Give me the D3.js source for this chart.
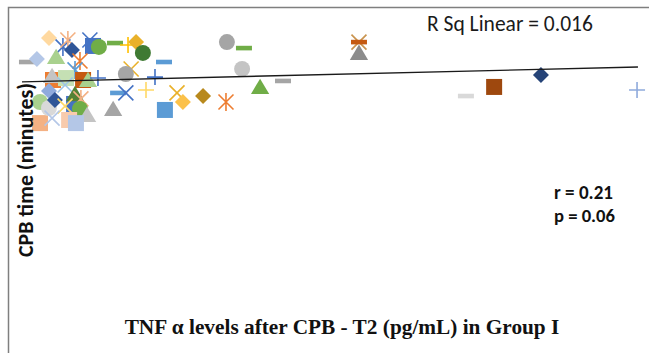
<!DOCTYPE html>
<html lang="en">
<head>
<meta charset="UTF-8">
<title>CPB time vs TNF alpha</title>
<script src="https://cdn.jsdelivr.net/npm/d3@7"></script>
<style>
  body { margin: 0; background: #fff; }
  svg { display: block; }
</style>
</head>
<body>
<div id="chart"></div>
<script>
// one entry per patient
const tnf = [13.2, 8.7, 14.8, 21.9, 22.9, 16.1, 24.8, 30.0, 34.2, 36.8, 39.0,
             1.6, 4.8, 11.0, 18.7, 17.1, 35.2, 45.8,
             10.0, 9.7, 14.2, 19.7, 21.3, 24.5, 33.5, 42.9, 13.9,
             31.0, 33.5, 40.0, 50.0, 51.9, 58.4,
             8.7, 5.8, 5.8, 8.7, 16.8, 10.6, 17.1, 19.0, 13.9, 18.7, 29.4, 21.0, 46.1,
             15.2, 17.4, 9.7,
             66.1, 71.6, 71.0, 76.8, 84.2, 65.8,
             108.7, 108.7, 108.7, 143.2, 152.3, 167.4, 198.4];
const cpb = [130.9, 135.5, 134.5, 134.5, 131.4, 129.3, 130.9, 132.9, 131.9, 133.4, 127.8,
             123.1, 124.6, 125.7, 123.6, 119.0, 119.5, 123.1,
             113.8, 115.9, 114.8, 113.8, 113.8, 114.8, 116.9, 115.3, 111.2,
             107.1, 107.1, 108.6, 107.1, 102.4, 105.5,
             108.1, 102.4, 91.5, 99.3, 101.4, 103.4, 106.5, 104.0, 100.3, 98.8, 98.8, 95.7, 98.3,
             93.1, 91.5, 94.1,
             133.4, 130.3, 119.5, 110.2, 113.3, 102.4,
             127.8, 133.4, 133.4, 105.5, 110.2, 116.4, 108.6];
const marker = ["star", "diamond", "star", "x", "square", "diamond", "circle", "dash", "plus", "diamond", "circle",
                "dash", "diamond", "triangle", "star", "star", "x", "dash",
                "square", "triangle", "square", "square", "triangle", "plus", "circle", "plus", "x",
                "dash", "x", "plus", "x", "diamond", "diamond",
                "diamond", "circle", "square", "circle", "square", "diamond", "triangle", "star", "x", "circle", "triangle", "triangle", "square",
                "square", "square", "x",
                "circle", "dash", "circle", "triangle", "dash", "star",
                "triangle", "x", "dash", "dash", "square", "diamond", "plus"];
const tone = ["blue", "peach", "salmon", "blue", "blue", "darkBlue", "green", "green", "gold", "amber", "forest",
              "gray", "lavender", "lightGreen", "orange", "lightBlue", "amber", "lightBlue",
              "orange", "lightGray", "paleGreen", "darkOrange", "lightGreen", "blue", "gray", "blue", "skyBlue",
              "lightBlue", "blue", "lightGold", "amber", "yellowOrange", "darkGold",
              "periwinkle", "lightGreen", "salmon", "paleGray", "blue", "darkBlue", "darkGreen", "salmon", "lightGold", "green", "gray", "lightGray", "lightBlue",
              "pink", "lavender", "lavender",
              "gray", "green", "lightGray", "green", "gray", "orange",
              "darkGray", "tan", "darkOrange", "paleGray", "brown", "navy", "periwinkle"];

// fitted line (SPSS output)
const trendIntercept = 112.8;
const trendSlope = 0.0388;
const rSqText = "R Sq Linear = 0.016";
const statLines = ["r = 0.21", "p = 0.06"];
const xTitle = "TNF \u03b1 levels after CPB - T2 (pg/mL) in Group I";
const yTitle = "CPB  time (minutes)";

const palette = {
  blue: "#4472C4", darkBlue: "#2F5597", navy: "#264478", lightBlue: "#5B9BD5",
  skyBlue: "#9DC3E6", lavender: "#B4C7E7", periwinkle: "#8FAADC",
  orange: "#ED7D31", darkOrange: "#C55A11", brown: "#9E480E", salmon: "#F4B183",
  pink: "#F8CBAD", gold: "#FFC000", darkGold: "#B8891D", amber: "#E9B12A",
  lightGold: "#FFD966", peach: "#FFD9A0", yellowOrange: "#FBC14A",
  green: "#70AD47", darkGreen: "#548235", forest: "#3F7A33", lightGreen: "#A9D18E",
  paleGreen: "#C5E0B4", gray: "#A5A5A5", darkGray: "#8C8C8C", lightGray: "#C4C4C4",
  paleGray: "#D9D9D9", tan: "#C9944F"
};

const W = 649, H = 353;
const svg = d3.select("#chart").append("svg")
  .attr("width", W).attr("height", H);

const x = d3.scaleLinear().domain([0, 200]).range([22, 642]);
const y = d3.scaleLinear().domain([0, 150]).range([300, 10]);

// chart frame (only top and left edges fall inside the crop)
svg.append("path")
  .attr("d", `M8.5,${H}V7.5H${W}`)
  .attr("fill", "none")
  .attr("stroke", "#7f7f7f")
  .attr("stroke-width", 1.5);

// excel style marker shapes, size = half width
const shapes = {
  diamond: { draw(c, r) { c.moveTo(0, -r); c.lineTo(r, 0); c.lineTo(0, r); c.lineTo(-r, 0); c.closePath(); } },
  square: { draw(c, r) { c.rect(-r, -r, 2 * r, 2 * r); } },
  triangle: { draw(c, r) { c.moveTo(0, -r); c.lineTo(r * 1.1, r * 0.85); c.lineTo(-r * 1.1, r * 0.85); c.closePath(); } },
  circle: { draw(c, r) { c.moveTo(r, 0); c.arc(0, 0, r, 0, 2 * Math.PI); } },
  x: { draw(c, r) { c.moveTo(-r, -r); c.lineTo(r, r); c.moveTo(r, -r); c.lineTo(-r, r); } },
  plus: { draw(c, r) { c.moveTo(-r, 0); c.lineTo(r, 0); c.moveTo(0, -r); c.lineTo(0, r); } },
  star: { draw(c, r) { c.moveTo(-r, -r); c.lineTo(r, r); c.moveTo(r, -r); c.lineTo(-r, r); c.moveTo(0, -r * 1.2); c.lineTo(0, r * 1.2); } },
  dash: { draw(c, r) { c.rect(-r, -2.3, 2 * r, 4.6); } }
};
const shapeSize = { diamond: 8, square: 8, triangle: 8.3, circle: 8, x: 7.5, plus: 8, star: 7.5, dash: 8 };
const stroked = new Set(["x", "plus", "star"]);

const pts = tnf.map((v, i) => ({ tnf: v, cpb: cpb[i], m: marker[i], c: palette[tone[i]] }));

svg.append("g").selectAll("path")
  .data(pts)
  .join("path")
  .attr("transform", d => `translate(${x(d.tnf)},${y(d.cpb)})`)
  .attr("d", d => d3.symbol().type(shapes[d.m]).size(shapeSize[d.m])())
  .attr("fill", d => stroked.has(d.m) ? "none" : d.c)
  .attr("stroke", d => stroked.has(d.m) ? d.c : "none")
  .attr("stroke-width", 1.6);

// linear fit
const fitX = [0, 198.7];
svg.append("path")
  .datum(fitX)
  .attr("fill", "none")
  .attr("stroke", "#1a1a1a")
  .attr("stroke-width", 1.4)
  .attr("d", d3.line().x(d => x(d)).y(d => y(trendIntercept + trendSlope * d)));

// scale a text so it spans the same width as in the original figure
function fitWidth(sel, target) {
  const w = sel.node().getComputedTextLength();
  sel.attr("font-size", +sel.attr("font-size") * target / w);
}

const sans = "Carlito, Calibri, 'Open Sans', sans-serif";

svg.append("text")
  .attr("x", 427).attr("y", 31)
  .attr("font-family", sans)
  .attr("font-size", 17)
  .attr("fill", "#1a1a1a")
  .text(rSqText)
  .call(fitWidth, 166);

svg.append("g").selectAll("text")
  .data(statLines)
  .join("text")
  .attr("x", 554)
  .attr("y", (d, i) => 199 + i * 23)
  .attr("font-family", sans)
  .attr("font-weight", "bold")
  .attr("font-size", 16)
  .attr("fill", "#111")
  .text(d => d)
  .each(function(d, i) { d3.select(this).call(fitWidth, i ? 61 : 59); });

svg.append("text")
  .attr("x", 342).attr("y", 334)
  .attr("text-anchor", "middle")
  .attr("font-family", "'Liberation Serif', 'Times New Roman', serif")
  .attr("font-weight", "bold")
  .attr("font-size", 18)
  .attr("fill", "#111")
  .text(xTitle)
  .call(fitWidth, 435);

svg.append("text")
  .attr("transform", "translate(33,170) rotate(-90)")
  .attr("text-anchor", "middle")
  .attr("font-family", sans)
  .attr("font-weight", "bold")
  .attr("font-size", 17)
  .attr("fill", "#111")
  .text(yTitle)
  .call(fitWidth, 174);
</script>
</body>
</html>
